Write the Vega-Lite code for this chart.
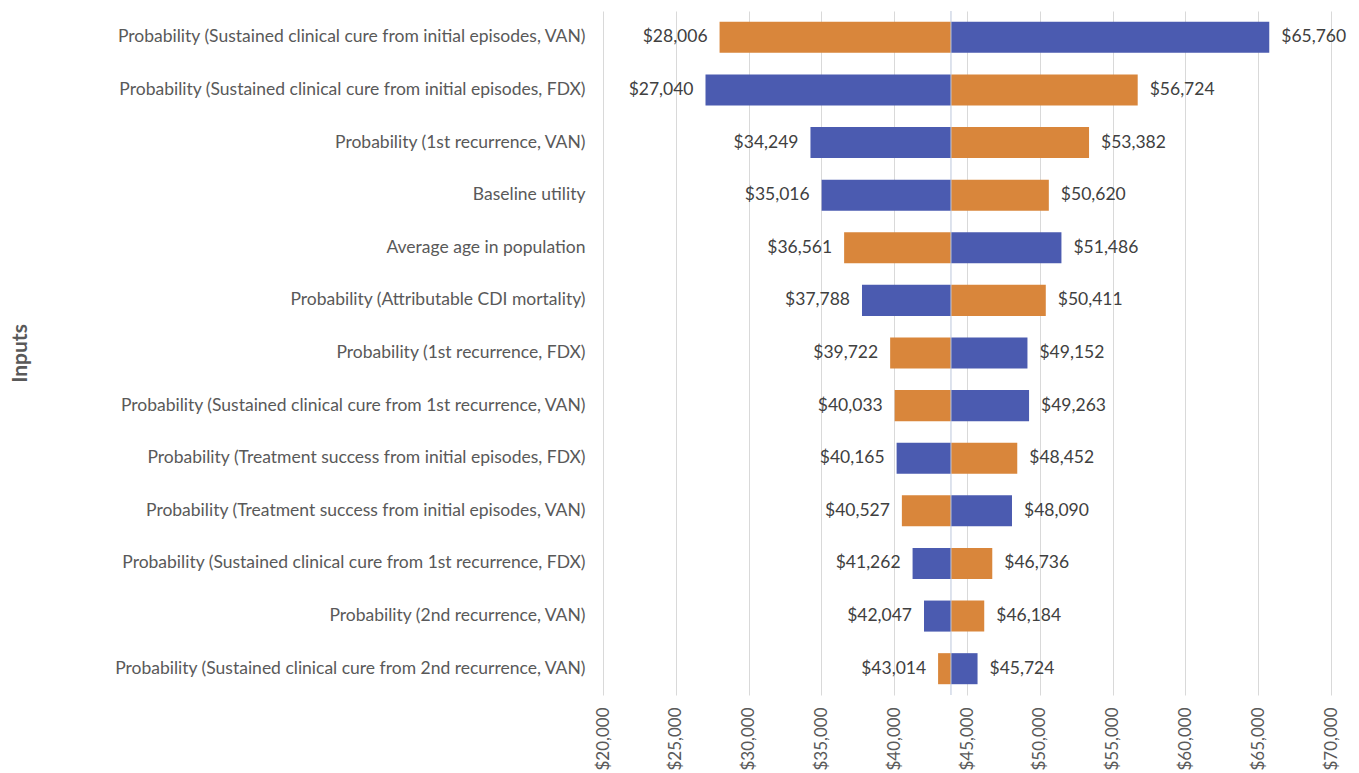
{
  "$schema": "https://vega.github.io/schema/vega-lite/v6.json",
  "width": 728,
  "height": 684,
  "autosize": "none",
  "padding": {"left": 603, "top": 11, "right": 28, "bottom": 78},
  "config": {"view": {"stroke": null}, "font": "Lato", "background": "white"},
  "data": {
    "values": [
      {"input": "Probability (Sustained clinical cure from initial episodes, VAN)", "bound": "Low", "value": 28006, "base": 43900},
      {"input": "Probability (Sustained clinical cure from initial episodes, VAN)", "bound": "High", "value": 65760, "base": 43900},
      {"input": "Probability (Sustained clinical cure from initial episodes, FDX)", "bound": "High", "value": 27040, "base": 43900},
      {"input": "Probability (Sustained clinical cure from initial episodes, FDX)", "bound": "Low", "value": 56724, "base": 43900},
      {"input": "Probability (1st recurrence, VAN)", "bound": "High", "value": 34249, "base": 43900},
      {"input": "Probability (1st recurrence, VAN)", "bound": "Low", "value": 53382, "base": 43900},
      {"input": "Baseline utility", "bound": "High", "value": 35016, "base": 43900},
      {"input": "Baseline utility", "bound": "Low", "value": 50620, "base": 43900},
      {"input": "Average age in population", "bound": "Low", "value": 36561, "base": 43900},
      {"input": "Average age in population", "bound": "High", "value": 51486, "base": 43900},
      {"input": "Probability (Attributable CDI mortality)", "bound": "High", "value": 37788, "base": 43900},
      {"input": "Probability (Attributable CDI mortality)", "bound": "Low", "value": 50411, "base": 43900},
      {"input": "Probability (1st recurrence, FDX)", "bound": "Low", "value": 39722, "base": 43900},
      {"input": "Probability (1st recurrence, FDX)", "bound": "High", "value": 49152, "base": 43900},
      {"input": "Probability (Sustained clinical cure from 1st recurrence, VAN)", "bound": "Low", "value": 40033, "base": 43900},
      {"input": "Probability (Sustained clinical cure from 1st recurrence, VAN)", "bound": "High", "value": 49263, "base": 43900},
      {"input": "Probability (Treatment success from initial episodes, FDX)", "bound": "High", "value": 40165, "base": 43900},
      {"input": "Probability (Treatment success from initial episodes, FDX)", "bound": "Low", "value": 48452, "base": 43900},
      {"input": "Probability (Treatment success from initial episodes, VAN)", "bound": "Low", "value": 40527, "base": 43900},
      {"input": "Probability (Treatment success from initial episodes, VAN)", "bound": "High", "value": 48090, "base": 43900},
      {"input": "Probability (Sustained clinical cure from 1st recurrence, FDX)", "bound": "High", "value": 41262, "base": 43900},
      {"input": "Probability (Sustained clinical cure from 1st recurrence, FDX)", "bound": "Low", "value": 46736, "base": 43900},
      {"input": "Probability (2nd recurrence, VAN)", "bound": "High", "value": 42047, "base": 43900},
      {"input": "Probability (2nd recurrence, VAN)", "bound": "Low", "value": 46184, "base": 43900},
      {"input": "Probability (Sustained clinical cure from 2nd recurrence, VAN)", "bound": "Low", "value": 43014, "base": 43900},
      {"input": "Probability (Sustained clinical cure from 2nd recurrence, VAN)", "bound": "High", "value": 45724, "base": 43900}
    ]
  },
  "encoding": {
    "y": {
      "field": "input",
      "type": "nominal",
      "sort": null,
      "scale": {"paddingInner": 0.41, "paddingOuter": 0.205},
      "axis": {
        "title": "Inputs",
        "domain": false,
        "ticks": false,
        "grid": false,
        "labelPadding": 18,
        "labelLimit": 0,
        "labelFontSize": 17.5,
        "labelColor": "#595959",
        "titleFontSize": 21,
        "titleFontWeight": "bold",
        "titleColor": "#595959",
        "titleAngle": 270,
        "titleBaseline": "middle",
        "titleX": -583
      }
    },
    "x": {
      "field": "value",
      "type": "quantitative",
      "scale": {"domain": [20000, 70000], "nice": false, "zero": false},
      "axis": {
        "title": null,
        "format": "$,.0f",
        "values": [20000, 25000, 30000, 35000, 40000, 45000, 50000, 55000, 60000, 65000, 70000],
        "domain": false,
        "ticks": false,
        "grid": true,
        "gridColor": "#d9d9d9",
        "gridWidth": 1,
        "labelAngle": 270,
        "labelPadding": 12,
        "labelFontSize": 17,
        "labelColor": "#595959",
        "labelFlush": false,
        "labelOverlap": false
      }
    }
  },
  "layer": [
    {
      "mark": {"type": "bar"},
      "encoding": {
        "x2": {"field": "base"},
        "color": {
          "field": "bound",
          "type": "nominal",
          "scale": {"domain": ["High", "Low"], "range": ["#4b5bb0", "#d9863b"]},
          "legend": null
        }
      }
    },
    {
      "mark": {"type": "rule", "color": "#bcc6dc", "strokeWidth": 1},
      "encoding": {
        "x": {"aggregate": "mean", "field": "base", "type": "quantitative"},
        "y": null
      }
    },
    {
      "transform": [{"filter": "datum.value < datum.base"}],
      "mark": {"type": "text", "align": "right", "baseline": "middle", "dx": -12, "fontSize": 17.5, "color": "#404040"},
      "encoding": {
        "text": {"field": "value", "type": "quantitative", "format": "$,.0f"}
      }
    },
    {
      "transform": [{"filter": "datum.value >= datum.base"}],
      "mark": {"type": "text", "align": "left", "baseline": "middle", "dx": 12, "fontSize": 17.5, "color": "#404040"},
      "encoding": {
        "text": {"field": "value", "type": "quantitative", "format": "$,.0f"}
      }
    }
  ]
}
